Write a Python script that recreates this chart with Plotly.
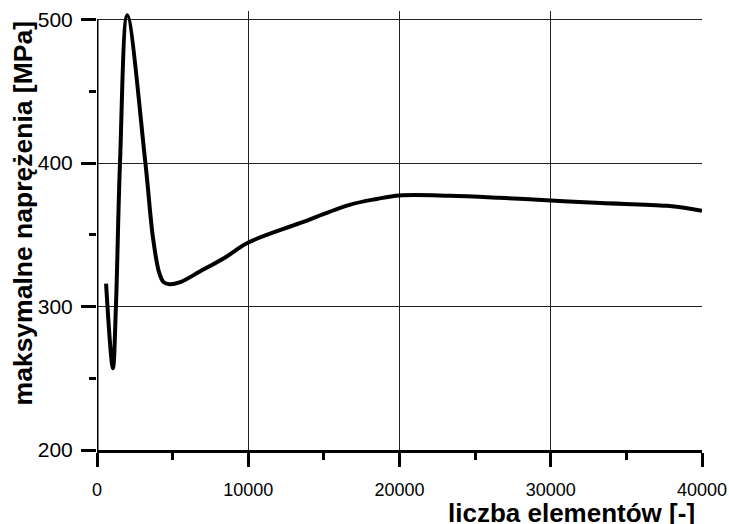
import plotly.graph_objects as go

# data
elements = [600, 1050, 1250, 1520, 2000, 3200, 3700, 4100, 4400, 4800, 5500,
            6800, 8500, 10000, 13400, 16700, 18500, 20000, 23300, 26600,
            30000, 33300, 37700, 40000]
stress = [316, 257, 300, 400, 503, 400, 348, 324, 317, 315.5, 317,
          324.4, 334.4, 344.6, 358.1, 370.9, 375.0, 377.4, 377.2, 375.8,
          373.9, 372.1, 370.2, 366.7]

x_ticks = [0, 10000, 20000, 30000, 40000]
y_ticks = [200, 300, 400, 500]

x_title = "liczba elementów [-]"
y_title = "maksymalne naprężenia [MPa]"

FONT = "Liberation Sans, Arial, sans-serif"

fig = go.Figure()
fig.add_trace(go.Scatter(
    x=elements, y=stress, mode="lines",
    line=dict(color="black", width=4, shape="spline", smoothing=1.0),
    showlegend=False, hoverinfo="skip",
))

fig.update_layout(
    width=729, height=524,
    margin=dict(l=97, r=27, t=11, b=74, autoexpand=False),
    paper_bgcolor="white", plot_bgcolor="white",
    font=dict(family=FONT, color="black"),
    showlegend=False,
)

fig.update_xaxes(
    range=[0, 40000], automargin=False,
    tickvals=x_ticks, ticktext=[str(v) for v in x_ticks],
    tickfont=dict(family=FONT, size=18, color="black"),
    ticks="outside", ticklen=14, tickwidth=3, tickcolor="black",
    ticklabelstandoff=7,
    minor=dict(dtick=5000, ticks="outside", ticklen=7, tickwidth=3,
               tickcolor="black", showgrid=False),
    showgrid=True, gridcolor="#222", gridwidth=1,
    showline=True, linecolor="black", linewidth=3,
    zeroline=False,
)

fig.update_yaxes(
    range=[200, 506], automargin=False,
    tickvals=y_ticks, ticktext=[str(v) for v in y_ticks],
    tickfont=dict(family=FONT, size=21, color="black"),
    ticks="outside", ticklen=15, tickwidth=3, tickcolor="black",
    ticklabelstandoff=4,
    minor=dict(tickvals=[250, 350, 450], ticks="outside", ticklen=7,
               tickwidth=3, tickcolor="black", showgrid=False),
    showgrid=True, gridcolor="#222", gridwidth=1,
    showline=False, zeroline=False,
)

# left axis line stopping at the top gridline
fig.add_shape(type="line", xref="x", yref="y", x0=0, x1=0, y0=200, y1=500,
              line=dict(color="black", width=3))

fig.add_annotation(
    text="<b>" + y_title + "</b>", textangle=-90,
    xref="paper", yref="paper", x=-0.123, y=0.538,
    xanchor="center", yanchor="middle", showarrow=False,
    font=dict(family=FONT, size=26.5, color="black"),
)
fig.add_annotation(
    text="<b>" + x_title + "</b>",
    xref="paper", yref="paper", x=0.9917, y=-0.1436,
    xanchor="right", yanchor="middle", showarrow=False,
    font=dict(family=FONT, size=26, color="black"),
)

fig.write_html("out.html")
